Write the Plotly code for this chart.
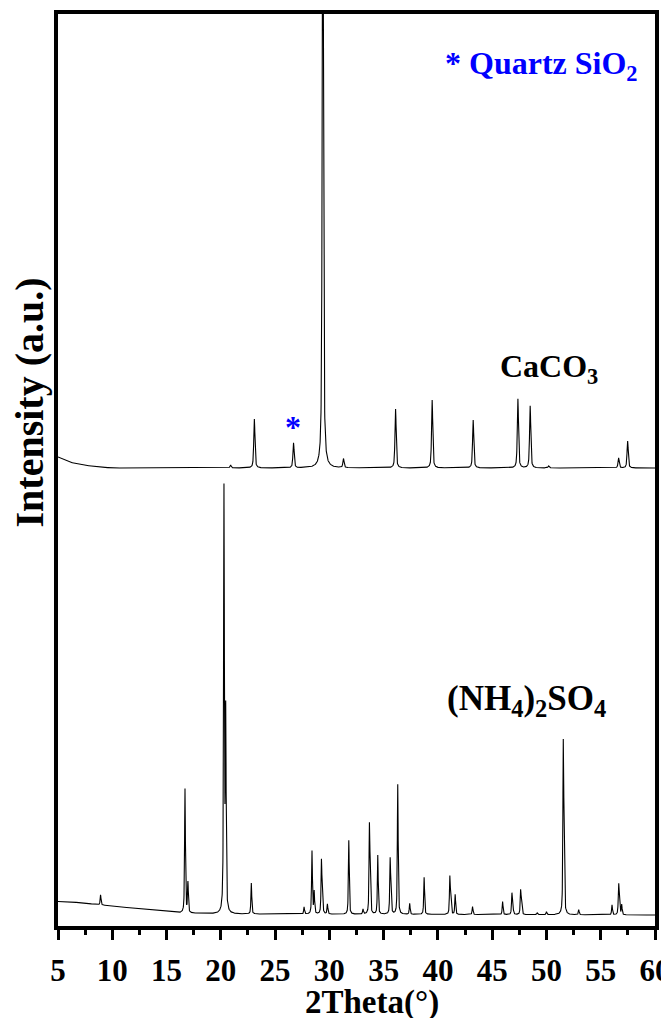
import numpy as np
import plotly.graph_objects as go

# ---- data (2theta in degrees, intensity in arbitrary units) ----
caco3_pos = [20.90, 23.09, 26.70, 29.40, 31.30, 36.10, 39.47, 43.25, 47.37, 48.50, 50.20, 56.65, 57.48]
caco3_int = [3, 49, 25, 700, 9, 59, 68, 48, 69, 62, 2, 10, 27]
caco3_bg_theta = [5.0, 5.2, 6.0, 7.3, 8.8, 10.0, 60.0]
caco3_bg = [469, 468, 464, 461, 459, 458, 458]

nh4_pos = [8.92, 16.70, 16.97, 20.29, 20.45, 22.81, 27.67, 28.40, 28.60, 29.27, 29.36, 29.82,
           31.79, 33.10, 33.69, 33.76, 34.46, 35.60, 35.68, 36.30, 37.40, 38.73, 41.10, 41.18,
           41.59, 43.19, 45.96, 46.82, 46.90, 47.62, 47.70, 49.15, 50.00, 51.55, 51.62, 52.97,
           56.04, 56.65, 56.72, 56.93]
nh4_int = [10, 124, 30, 422, 195, 31, 7, 63, 22, 52, 23, 10,
           74, 5, 84, 31, 59, 53, 20, 130, 11, 37, 36, 15,
           20, 8, 13, 20, 10, 23, 12, 2, 3, 162, 55, 5,
           10, 28, 14, 10]
nh4_bg_theta = [5.0, 5.2, 7.3, 8.5, 10.7, 13.4, 16.2, 20.0, 60.0]
nh4_bg = [24.5, 24.3, 23.3, 21.5, 19.3, 16.0, 13.0, 12.0, 11.0]

caco3_fwhm = 0.13
nh4_fwhm = 0.09

theta = np.arange(5.0, 60.0001, 0.01)


def pattern(pos, inten, fwhm, bg_t, bg_v):
    y = np.interp(theta, bg_t, bg_v)
    for p, h in zip(pos, inten):
        d = (theta - p) / (fwhm / 2.0)
        lor = 1.0 / (1.0 + d ** 2)
        gau = np.exp(-np.log(2) * d ** 2)
        y = y + h * (0.6 * lor + 0.4 * gau)
    return y


y_caco3 = pattern(caco3_pos, caco3_int, caco3_fwhm, caco3_bg_theta, caco3_bg)
y_nh4 = pattern(nh4_pos, nh4_int, nh4_fwhm, nh4_bg_theta, nh4_bg)

FONT = "Liberation Serif"

fig = go.Figure()
fig.add_trace(go.Scatter(x=theta, y=y_caco3, mode="lines",
                         line=dict(color="black", width=1.1), showlegend=False))
fig.add_trace(go.Scatter(x=theta, y=y_nh4, mode="lines",
                         line=dict(color="black", width=1.1), showlegend=False))

# page body has an 8 px margin, so the figure is 8 px smaller and margins are shifted
fig.update_layout(
    width=661, height=1010,
    margin=dict(l=50, r=14, t=6, b=92, autoexpand=False),
    plot_bgcolor="white", paper_bgcolor="white",
    font=dict(family=FONT, color="black"),
)
fig.update_xaxes(
    range=[5, 60], tickmode="linear", tick0=5, dtick=5, automargin=False,
    ticks="outside", ticklen=10, tickwidth=3, tickcolor="black",
    minor=dict(ticks="outside", ticklen=5, tickwidth=3, tickcolor="black", dtick=2.5, tick0=5),
    showline=True, linewidth=4, linecolor="black", mirror=True,
    showgrid=False, zeroline=False, ticklabelstandoff=4, ticklabeloverflow="allow",
    tickfont=dict(family=FONT, size=31, color="black", weight="bold"),
)
fig.update_yaxes(
    range=[0, 912], showticklabels=False, ticks="", automargin=False,
    showline=True, linewidth=4, linecolor="black", mirror=True,
    showgrid=False, zeroline=False,
)

ann = [
    dict(x=0.526, y=-0.084, xref="paper", yref="paper", text="<b>2Theta(°)</b>",
         showarrow=False, font=dict(family=FONT, size=33, color="black"),
         xanchor="center", yanchor="middle"),
    dict(x=-0.047, y=0.574, xref="paper", yref="paper", text="<b>Intensity (a.u.)</b>",
         textangle=-90, showarrow=False, font=dict(family=FONT, size=40, color="black"),
         xanchor="center", yanchor="middle"),
    dict(x=58.6, y=861, xref="x", yref="y", text="<b>* Quartz SiO<sub>2</sub></b>",
         showarrow=False, font=dict(family=FONT, size=32, color="#0000ff"),
         xanchor="right", yanchor="middle"),
    dict(x=50.2, y=558, xref="x", yref="y", text="<b>CaCO<sub>3</sub></b>",
         showarrow=False, font=dict(family=FONT, size=32, color="black"),
         xanchor="center", yanchor="middle"),
    dict(x=48.2, y=226, xref="x", yref="y", text="<b>(NH<sub>4</sub>)<sub>2</sub>SO<sub>4</sub></b>",
         showarrow=False, font=dict(family=FONT, size=35, color="black"),
         xanchor="center", yanchor="middle"),
    dict(x=26.62, y=499, xref="x", yref="y", text="<b>*</b>",
         showarrow=False, font=dict(family=FONT, size=32, color="#0000ff"),
         xanchor="center", yanchor="middle"),
]
fig.update_layout(annotations=ann)

fig.write_html("out.html")
